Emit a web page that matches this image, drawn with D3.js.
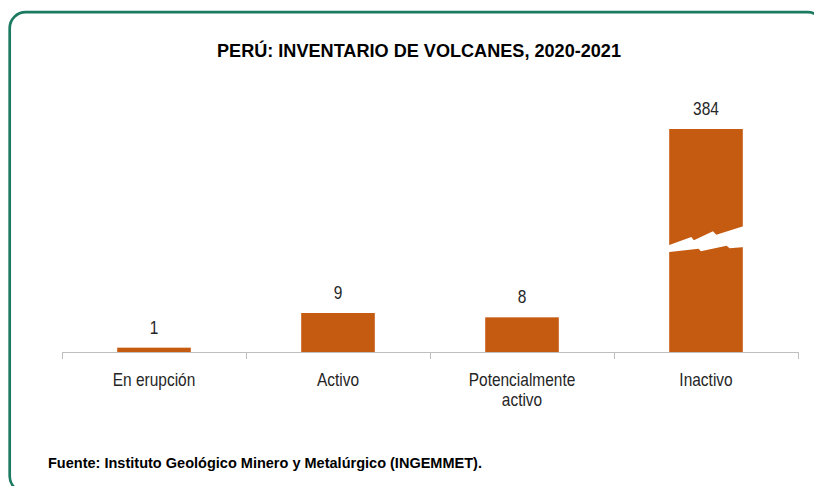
<!DOCTYPE html>
<html>
<head>
<meta charset="utf-8">
<script src="https://cdn.jsdelivr.net/npm/d3@7"></script>
<style>
  body { margin: 0; background: #fff; }
  text { font-family: "Liberation Sans", Arial, sans-serif; }
</style>
</head>
<body>
<script>
// datos del grafico
const categorias = ["En erupción", "Activo", "Potencialmente activo", "Inactivo"];
const etiquetas = [["En erupción"], ["Activo"], ["Potencialmente", "activo"], ["Inactivo"]];
const valores = [1, 9, 8, 384];
const barraCortada = "Inactivo"; // barra con corte en el eje
const valorCorte = 26;
const titulo = "PERÚ: INVENTARIO DE VOLCANES, 2020-2021";
const fuente = "Fuente: Instituto Geológico Minero y Metalúrgico (INGEMMET).";

const W = 814, H = 486;
const naranja = "#c55a11";
const verde = "#1b7a60";
const angosto = 0.86; // simula fuente "narrow"

const svg = d3.select("body").append("svg")
  .attr("width", W)
  .attr("height", H);

// marco redondeado
svg.append("rect")
  .attr("x", 9.7).attr("y", 12.2)
  .attr("width", 814).attr("height", 480)
  .attr("rx", 16).attr("ry", 16)
  .attr("fill", "none")
  .attr("stroke", verde)
  .attr("stroke-width", 2.7);

svg.append("text")
  .attr("x", 217).attr("y", 57)
  .attr("font-size", 19)
  .attr("font-weight", "bold")
  .attr("fill", "#000")
  .attr("textLength", 404)
  .attr("lengthAdjust", "spacingAndGlyphs")
  .text(titulo);

const x = d3.scaleBand()
  .domain(categorias)
  .range([62, 798])
  .paddingInner(0.6)
  .paddingOuter(0.3);

// escala con tramo comprimido (eje cortado)
const y = d3.scaleLinear()
  .domain([0, 45, 384])
  .range([352, 157, 129]);

const grafico = svg.append("g");

grafico.selectAll("rect.barra")
  .data(valores)
  .enter()
  .append("rect")
  .attr("class", "barra")
  .attr("x", (d, i) => x(categorias[i]))
  .attr("y", d => y(d))
  .attr("width", x.bandwidth())
  .attr("height", d => y(0) - y(d))
  .attr("fill", naranja);

// corte en zigzag
const sup = [[0, 6.3], [0.30, -2.3], [0.335, 1], [0.595, -8], [0.64, -4.7], [1, -13.7]];
const inf = [[0, 13], [0.40, 9.3], [0.43, 12], [0.78, 6.3], [0.82, 9], [1, 7.7]];
const xc = x(barraCortada), wc = x.bandwidth(), yc = y(valorCorte);
const puntos = sup.map(p => [xc + p[0] * wc, yc + p[1]])
  .concat(inf.slice().reverse().map(p => [xc + p[0] * wc, yc + p[1]]));
puntos[0][0] -= 2; puntos[5][0] += 2; puntos[6][0] += 2; puntos[11][0] -= 2;
grafico.append("path")
  .attr("d", d3.line()(puntos) + "Z")
  .attr("fill", "#fff");

// etiquetas de valor
grafico.selectAll("text.valor")
  .data(valores)
  .enter()
  .append("text")
  .attr("class", "valor")
  .attr("transform", (d, i) => `translate(${x(categorias[i]) + x.bandwidth() / 2},${y(d) - 14}) scale(${angosto},1)`)
  .attr("text-anchor", "middle")
  .attr("font-size", 18)
  .attr("fill", "#262626")
  .text(d => d);

// eje horizontal
const eje = svg.append("g");
eje.append("line")
  .attr("x1", 62).attr("x2", 798)
  .attr("y1", y(0) + 0.5).attr("y2", y(0) + 0.5)
  .attr("stroke", "#bfbfbf");
const bordes = d3.range(categorias.length + 1).map(i => 62 + i * x.step());
eje.selectAll("line.tick")
  .data(bordes)
  .enter()
  .append("line")
  .attr("class", "tick")
  .attr("x1", d => Math.round(d) + 0.5).attr("x2", d => Math.round(d) + 0.5)
  .attr("y1", y(0)).attr("y2", y(0) + 7)
  .attr("stroke", "#bfbfbf");

const cats = eje.selectAll("text.cat")
  .data(categorias)
  .enter()
  .append("text")
  .attr("class", "cat")
  .attr("transform", d => `translate(${x(d) + x.bandwidth() / 2},386) scale(${angosto},1)`)
  .attr("text-anchor", "middle")
  .attr("font-size", 18)
  .attr("fill", "#262626");
cats.selectAll("tspan")
  .data((d, i) => etiquetas[i])
  .enter()
  .append("tspan")
  .attr("x", 0)
  .attr("dy", (d, i) => i === 0 ? 0 : 20)
  .text(d => d);

svg.append("text")
  .attr("x", 48).attr("y", 468)
  .attr("font-size", 15)
  .attr("font-weight", "bold")
  .attr("fill", "#000")
  .attr("textLength", 434)
  .attr("lengthAdjust", "spacingAndGlyphs")
  .text(fuente);
</script>
</body>
</html>
